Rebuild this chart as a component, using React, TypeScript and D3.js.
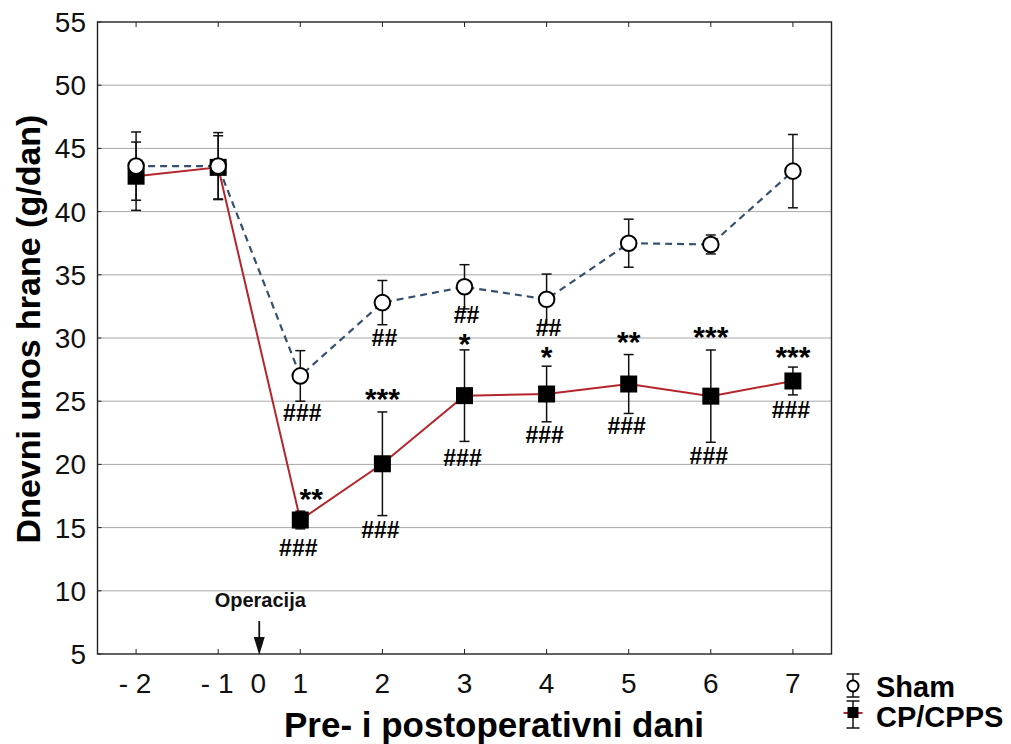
import React from "react";
import * as d3 from "d3";

const days = ["- 2", "- 1", "1", "2", "3", "4", "5", "6", "7"];
const yTicks = [5, 10, 15, 20, 25, 30, 35, 40, 45, 50, 55];

const shamMean = [43.6, 43.6, 27.0, 32.8, 34.05, 33.06, 37.5, 37.4, 43.2];
const shamErr = [2.7, 2.65, 2.0, 1.75, 1.75, 2.0, 1.9, 0.75, 2.9];
const cpMean = [42.8, 43.5, 15.6, 20.05, 25.44, 25.57, 26.36, 25.4, 26.6];
const cpErr = [2.7, 2.5, 0.7, 4.1, 3.62, 2.2, 2.33, 3.65, 1.1];

const shamHash = ["", "", "###", "##", "##", "##", "", "", ""];
const shamHashAt = [0, 0, 24.1, 30.0, 31.8, 30.8, 0, 0, 0];
const cpStars = ["", "", "**", "***", "*", "*", "**", "***", "***"];
const cpStarsAt = [0, 0, 17.8, 25.75, 30.1, 29.05, 30.2, 30.6, 29.05];
const cpHash = ["", "", "###", "###", "###", "###", "###", "###", "###"];
const cpHashAt = [0, 0, 13.4, 14.8, 20.5, 22.3, 23.0, 20.7, 24.3];

const FONT = "'Liberation Sans', Arial, sans-serif";
const RED = "#b3262b";
const BLUE = "#34506e";

export default function App() {
  const W = 1011, H = 744;
  const left = 97.5, right = 831.5, top = 22, bottom = 654;
  const x = d3.scaleLinear().domain([-0.47, 8.47]).range([left, right]);
  const y = d3.scaleLinear().domain([5, 55]).range([bottom, top]);
  const idx = days.map((_, i) => i);
  const shamPath = d3.line<number>().x((i) => x(i)).y((i) => y(shamMean[i]))(idx) || "";
  const cpPath = d3.line<number>().x((i) => x(i)).y((i) => y(cpMean[i]))(idx) || "";
  const zeroX = x(1.5);

  const errBar = (m: number, e: number, i: number, key: string) => (
    <g key={key} stroke="#111" strokeWidth={1.5}>
      <line x1={x(i)} x2={x(i)} y1={y(m + e)} y2={y(m - e)} />
      <line x1={x(i) - 5} x2={x(i) + 5} y1={y(m + e)} y2={y(m + e)} />
      <line x1={x(i) - 5} x2={x(i) + 5} y1={y(m - e)} y2={y(m - e)} />
    </g>
  );

  const LX = 853, TX = 876;

  return (
    <svg width={W} height={H} style={{ position: "absolute", left: 0, top: 0, background: "#fff" }} fontFamily={FONT}>
      <rect x={0} y={0} width={W} height={H} fill="#fff" />
      {yTicks.filter((t) => t > 5 && t < 55).map((t) => (
        <line key={"g" + t} x1={left} x2={right} y1={y(t)} y2={y(t)} stroke="#a8a8a8" strokeWidth={1} />
      ))}
      <rect x={left} y={top} width={right - left} height={bottom - top} fill="none" stroke="#222" strokeWidth={1.4} />
      {yTicks.map((t) => (
        <g key={"yt" + t}>
          <line x1={left} x2={left + 4} y1={y(t)} y2={y(t)} stroke="#222" strokeWidth={1} />
          <text x={86} y={y(t) + 10} textAnchor="end" fontSize={28} fill="#111">{t}</text>
        </g>
      ))}
      {idx.map((i) => (
        <g key={"xt" + i}>
          <line x1={x(i)} x2={x(i)} y1={bottom} y2={bottom - 5} stroke="#222" strokeWidth={1} />
          <line x1={x(i)} x2={x(i)} y1={top} y2={top + 5} stroke="#222" strokeWidth={1} />
          <text x={x(i) - (days[i].startsWith("-") ? 1 : 0)} y={693} textAnchor="middle" fontSize={28} fill="#111">{days[i]}</text>
        </g>
      ))}
      <text x={zeroX - 1} y={693} textAnchor="middle" fontSize={28} fill="#111">0</text>
      <text x={zeroX + 1} y={607} textAnchor="middle" fontSize={20} fontWeight="bold" fill="#111">Operacija</text>
      <line x1={zeroX} x2={zeroX} y1={621} y2={640} stroke="#111" strokeWidth={1.8} />
      <path d={`M${zeroX - 5.5},${637} L${zeroX + 5.5},${637} L${zeroX},${655} Z`} fill="#111" />
      <path d={cpPath} fill="none" stroke={RED} strokeWidth={2} />
      <path d={shamPath} fill="none" stroke={BLUE} strokeWidth={2.2} strokeDasharray="7,5" />
      {idx.map((i) => errBar(cpMean[i], cpErr[i], i, "ec" + i))}
      {idx.map((i) => errBar(shamMean[i], shamErr[i], i, "es" + i))}
      {idx.map((i) => (
        <rect key={"sq" + i} x={x(i) - 8.5} y={y(cpMean[i]) - 8.5} width={17} height={17} fill="#000" />
      ))}
      {idx.map((i) => (
        <circle key={"ci" + i} cx={x(i)} cy={y(shamMean[i])} r={7.8} fill="#fff" stroke="#000" strokeWidth={2} />
      ))}
      {idx.map((i) => shamHash[i] ? (
        <text key={"sh" + i} x={x(i) + 2} y={y(shamHashAt[i]) + 8} textAnchor="middle" fontSize={23} fontWeight="bold" fill="#000">{shamHash[i]}</text>
      ) : null)}
      {idx.map((i) => cpHash[i] ? (
        <text key={"ch" + i} x={x(i) - 2} y={y(cpHashAt[i]) + 8} textAnchor="middle" fontSize={23} fontWeight="bold" fill="#000">{cpHash[i]}</text>
      ) : null)}
      {idx.map((i) => cpStars[i] ? (
        <text key={"cs" + i} x={x(i) + (i === 2 ? 11 : 0)} y={y(cpStarsAt[i]) + 17} textAnchor="middle" fontSize={30} fontWeight="bold" fill="#000">{cpStars[i]}</text>
      ) : null)}
      <text x={494} y={737} textAnchor="middle" fontSize={35} fontWeight="bold" fill="#000">Pre- i postoperativni dani</text>
      <text transform={`translate(40,329) rotate(-90)`} textAnchor="middle" fontSize={34} fontWeight="bold" fill="#000">Dnevni unos hrane (g/dan)</text>
      <g>
        <g stroke="#111" strokeWidth={1.5}>
          <line x1={LX} x2={LX} y1={674} y2={697} />
          <line x1={LX - 6.5} x2={LX + 6.5} y1={674} y2={674} />
          <line x1={LX - 6.5} x2={LX + 6.5} y1={697} y2={697} />
        </g>
        <circle cx={LX} cy={686} r={5.5} fill="#fff" stroke="#000" strokeWidth={2} />
        <text x={TX} y={697} fontSize={29} fontWeight="bold" fill="#000">Sham</text>
        <line x1={LX - 9.5} x2={LX + 9.5} y1={713} y2={713} stroke={RED} strokeWidth={2} />
        <g stroke="#111" strokeWidth={1.5}>
          <line x1={LX} x2={LX} y1={701} y2={728} />
          <line x1={LX - 6.5} x2={LX + 6.5} y1={701} y2={701} />
          <line x1={LX - 6.5} x2={LX + 6.5} y1={728} y2={728} />
        </g>
        <rect x={LX - 5.5} y={707} width={11} height={11} fill="#000" />
        <text x={TX} y={727} fontSize={29} fontWeight="bold" fill="#000">CP/CPPS</text>
      </g>
    </svg>
  );
}
